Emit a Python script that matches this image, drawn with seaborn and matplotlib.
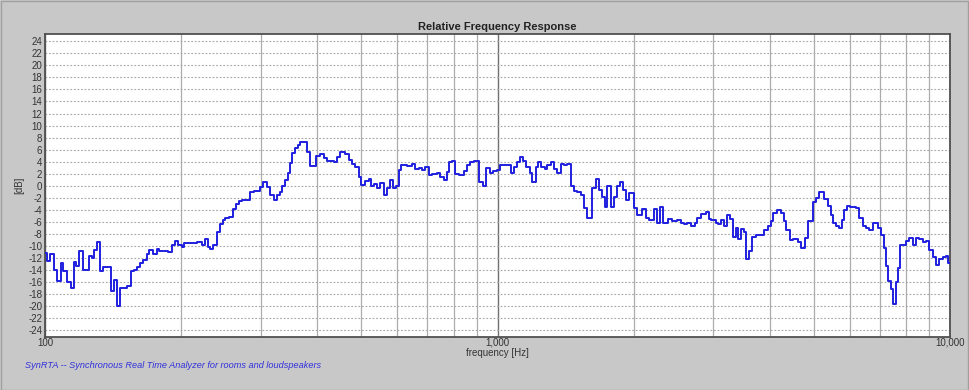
import matplotlib
matplotlib.use("Agg")
import matplotlib.pyplot as plt
import seaborn as sns
import pandas as pd
from matplotlib.patches import Rectangle

# ---- data (step curve: frequency where each level starts, level in dB) ----
freq_hz = [
    100.0, 101.2, 102.6, 104.7, 106.1, 108.3, 109.8, 111.7, 114.0, 115.9,
    117.1, 119.1, 121.2, 125.1, 126.9, 128.4, 130.1, 132.3, 134.6, 140.0,
    142.1, 144.1, 146.5, 152.1, 154.7, 157.4, 160.0, 162.2, 165.0, 167.9,
    170.1, 173.1, 176.7, 179.0, 187.4, 190.7, 193.9, 197.2, 200.6, 203.3,
    216.6, 222.2, 225.9, 229.1, 231.8, 235.7, 239.8, 243.9, 247.3, 250.5,
    254.9, 260.1, 264.6, 268.2, 272.4, 284.1, 289.0, 297.9, 303.1, 309.4,
    314.6, 320.0, 325.5, 329.9, 334.5, 339.6, 343.6, 348.4, 351.9, 356.8,
    361.6, 366.6, 372.8, 379.3, 385.7, 397.7, 404.4, 412.8, 420.0, 434.3,
    441.9, 449.4, 461.0, 468.8, 477.0, 485.1, 493.3, 500.0, 510.5, 519.1,
    526.3, 532.5, 541.8, 551.0, 560.4, 570.2, 579.8, 587.8, 597.8, 604.8,
    613.2, 631.3, 647.6, 658.5, 669.7, 681.4, 692.9, 704.7, 717.0, 735.5,
    748.0, 760.7, 773.9, 783.1, 793.9, 807.4, 821.1, 842.2, 857.0, 871.5,
    886.3, 909.1, 929.7, 945.5, 961.5, 978.3, 998.5, 1015, 1042, 1069,
    1087, 1106, 1120, 1140, 1159, 1179, 1193, 1214, 1228, 1249,
    1271, 1288, 1310, 1332, 1356, 1378, 1402, 1426, 1450, 1475,
    1501, 1526, 1552, 1579, 1620, 1648, 1675, 1705, 1727, 1749,
    1778, 1809, 1834, 1865, 1890, 1919, 1952, 2001, 2030, 2090,
    2125, 2162, 2217, 2248, 2286, 2326, 2381, 2435, 2489, 2540,
    2583, 2628, 2673, 2728, 2766, 2813, 2885, 2934, 2970, 3036,
    3072, 3125, 3167, 3222, 3265, 3322, 3362, 3401, 3448, 3507,
    3537, 3597, 3660, 3722, 3883, 3951, 4018, 4073, 4142, 4228,
    4286, 4337, 4426, 4506, 4603, 4693, 4778, 4851, 4969, 5053,
    5139, 5271, 5363, 5446, 5519, 5609, 5681, 5760, 5837, 5917,
    6018, 6195, 6300, 6410, 6519, 6629, 6745, 6940, 7036, 7134,
    7229, 7303, 7404, 7491, 7595, 7661, 7763, 7859, 7992, 8127,
    8270, 8410, 8552, 8702, 8849, 8999, 9156, 9311, 9470, 9635,
    9798, 9914, 10000,
]
level_db = [
    -11.1, -12.5, -11.3, -14.0, -15.8, -12.8, -14.2, -16.0, -17.0, -12.7,
    -13.3, -10.8, -14.0, -11.6, -12.0, -10.7, -9.4, -14.2, -13.4, -17.4,
    -15.7, -19.9, -17.0, -16.7, -14.2, -14.0, -13.4, -12.8, -12.3, -11.4,
    -10.7, -11.4, -10.5, -10.9, -11.0, -9.8, -9.2, -9.8, -10.1, -9.5,
    -9.4, -9.8, -8.9, -10.2, -10.5, -9.8, -7.6, -6.4, -5.6, -5.3,
    -5.1, -3.9, -3.1, -2.5, -2.3, -1.1, -0.8, -0.2, 0.7, -0.2,
    -1.6, -2.4, -1.5, -1.0, -0.1, 1.0, 2.2, 3.8, 5.4, 6.2,
    6.8, 7.3, 7.2, 5.6, 3.3, 4.9, 5.2, 4.6, 4.2, 4.0,
    4.75, 5.6, 5.3, 4.3, 3.6, 3.2, 1.4, 0.2, 0.8, 1.1,
    0.0, 0.3, -0.3, 0.4, -1.6, -0.4, 1.0, -0.4, 0.0, 2.6,
    3.5, 3.3, 3.6, 2.8, 3.0, 2.6, 3.2, 1.8, 1.9, 2.1,
    1.5, 1.0, 2.3, 4.0, 4.2, 1.9, 1.8, 2.4, 3.4, 3.9,
    4.2, 0.7, 0.0, 3.0, 2.2, 2.5, 2.6, 3.4, 3.5, 2.2,
    3.2, 4.0, 4.7, 4.2, 3.2, 2.2, 0.7, 3.1, 3.9, 3.1,
    2.8, 3.5, 3.9, 2.8, 2.2, 3.7, 3.5, 3.7, -0.1, -0.8,
    -1.1, -1.5, -3.7, -5.4, -0.4, 1.1, -0.7, -1.8, -3.5, -0.1,
    -3.5, -1.8, 0.0, 0.7, -0.7, -2.4, -1.2, -3.7, -4.9, -3.9,
    -5.3, -5.7, -3.9, -6.1, -3.5, -6.1, -5.5, -5.9, -5.7, -6.1,
    -6.3, -6.1, -6.6, -6.1, -5.3, -4.6, -4.4, -5.5, -5.7, -6.2,
    -6.4, -5.7, -6.6, -4.8, -5.5, -8.5, -7.0, -8.8, -7.1, -7.6,
    -12.1, -10.9, -8.5, -8.1, -7.3, -6.6, -5.9, -4.5, -4.1, -4.5,
    -5.9, -7.4, -9.0, -8.8, -9.4, -10.4, -8.6, -5.9, -2.7, -2.0,
    -1.1, -2.2, -3.3, -4.8, -6.2, -6.6, -7.0, -5.6, -4.1, -3.4,
    -3.5, -3.7, -5.4, -6.6, -7.0, -7.3, -6.1, -7.0, -8.1, -10.4,
    -13.3, -15.8, -17.2, -19.7, -16.0, -13.6, -9.9, -9.8, -9.2, -8.7,
    -9.8, -8.7, -8.8, -9.4, -9.1, -10.6, -11.8, -13.1, -12.1, -11.9,
    -11.7, -12.8, -12.8,
]

y_ticks = list(range(-24, 25, 2))
x_major = [100, 1000, 10000]
x_major_labels = ["100", "1,000", "10,000"]
x_minor = [200, 300, 400, 500, 600, 700, 800, 900,
           2000, 3000, 4000, 5000, 6000, 7000, 8000, 9000]

title = "Relative Frequency Response"
x_label = "frequency [Hz]"
y_label = "[dB]"
footer = "SynRTA -- Synchronous Real Time Analyzer for rooms and loudspeakers"

# ---- styling ----
sns.set_style("white")
plt.rcParams["font.family"] = ["Liberation Sans", "DejaVu Sans"]

bg = "#c8c8c8"
fig = plt.figure(figsize=(9.69, 3.90), dpi=100, facecolor=bg)
ax = fig.add_axes([45 / 969, 1 - 337 / 390, (950 - 45) / 969, (337 - 34) / 390])
ax.set_facecolor("white")

df = pd.DataFrame({"freq": freq_hz, "level": level_db})
sns.lineplot(data=df, x="freq", y="level", ax=ax, estimator=None, sort=False,
             drawstyle="steps-post", color="#1f1fe0", linewidth=1.4, zorder=5)

ax.set_xscale("log")
ax.set_xlim(100, 10000)
ax.set_ylim(-25.1, 25.2)

ax.set_xticks(x_major)
ax.set_xticklabels(x_major_labels)
ax.set_xticks(x_minor, minor=True)
ax.set_xticklabels([], minor=True)
ax.set_yticks(y_ticks)
ax.set_yticklabels([str(v) for v in y_ticks])

ax.grid(False)
ax.grid(True, which="minor", axis="x", color="#acacac", linewidth=0.9, linestyle="-")
ax.grid(True, which="major", axis="x", color="#707070", linewidth=1.0, linestyle="-")
ax.grid(True, which="major", axis="y", color="#a8a8a8", linewidth=0.8,
        linestyle=(0, (1.6, 1.6)))

ax.tick_params(axis="both", which="both", length=0, labelsize=7, colors="#333333")
ax.tick_params(axis="y", pad=2)
ax.tick_params(axis="x", pad=0.5)

for s in ax.spines.values():
    s.set_visible(True)
    s.set_color("#505050")
    s.set_linewidth(1.3)

ax.set_xlabel(x_label, fontsize=7, color="#333333", labelpad=0)
ax.set_ylabel(y_label, fontsize=7, color="#333333", labelpad=3)
ax.set_title(title, fontsize=8, fontweight="bold", color="#222222", pad=3)

fig.text(25 / 969, 1 - 366 / 390, footer, fontsize=6.6, style="italic",
         color="#2f2fdc", ha="left", va="center")

fig.patches.append(Rectangle((0.5 / 969, 0.5 / 390), 1 - 1.5 / 969, 1 - 1.5 / 390,
                             transform=fig.transFigure, fill=False,
                             edgecolor="#a0a0a0", linewidth=1.0))

fig.savefig("out.png", dpi=100, facecolor=bg)
